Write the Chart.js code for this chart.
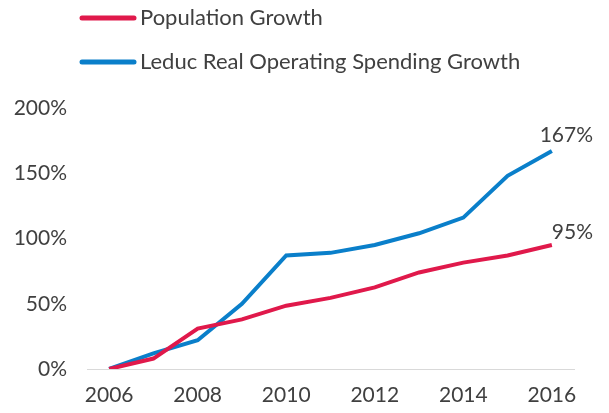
<!DOCTYPE html>
<html>
<head>
<meta charset="utf-8">
<script src="https://cdn.jsdelivr.net/npm/chart.js@4"></script>
<style>
  html, body { margin: 0; padding: 0; background: #fff; }
  #wrap { width: 609px; height: 413px; position: relative; }
</style>
</head>
<body>
<div id="wrap"><canvas id="chart"></canvas></div>
<script>
const years = ["2006","2007","2008","2009","2010","2011","2012","2013","2014","2015","2016"];
const populationGrowth = [0, 8, 31, 38, 48.5, 54.5, 62.5, 74, 81.5, 87, 95];
const spendingGrowth = [0, 12, 22, 50, 87, 89, 95, 104, 116, 148, 167];
const yTicks = [0, 50, 100, 150, 200];
const seriesNames = ["Population Growth", "Leduc Real Operating Spending Growth"];
const endLabels = ["95%", "167%"];

const FONT = "Lato, 'Open Sans', sans-serif";
const TEXT = "#404040";

// legend + end labels drawn straight on the canvas
const extras = {
    id: 'extras',
    afterDraw(chart) {
        let ctx = chart.ctx;
        ctx.save();
        ctx.fillStyle = TEXT;
        ctx.textBaseline = "middle";
        ctx.lineCap = "round";
        chart.data.datasets.forEach((ds, i) => {
            let y = 18 + i * 44;
            ctx.strokeStyle = ds.borderColor;
            ctx.lineWidth = 5;
            ctx.beginPath();
            ctx.moveTo(82, y);
            ctx.lineTo(134, y);
            ctx.stroke();
            ctx.font = "22px " + FONT;
            ctx.fillText(ds.label, 140, y);

            let meta = chart.getDatasetMeta(i);
            let last = meta.data[meta.data.length - 1];
            ctx.font = "21px " + FONT;
            ctx.textAlign = "right";
            ctx.fillText(endLabels[i], 593, last.y - (i == 0 ? 13 : 16));
            ctx.textAlign = "left";
        });
        ctx.restore();
    }
};

let ctx = document.getElementById('chart').getContext('2d');
let chart = new Chart(ctx, {
    type: 'line',
    data: {
        labels: years,
        datasets: [{
            label: seriesNames[0],
            data: populationGrowth,
            borderColor: '#E0194B',
            borderWidth: 4,
            pointRadius: 0,
            tension: 0
        }, {
            label: seriesNames[1],
            data: spendingGrowth,
            borderColor: '#0A7FCA',
            borderWidth: 4,
            pointRadius: 0,
            tension: 0
        }]
    },
    options: {
        responsive: true,
        maintainAspectRatio: false,
        animation: false,
        layout: { padding: { top: 108, right: 35, left: 0, bottom: 0 } },
        plugins: {
            legend: { display: false },
            tooltip: { enabled: false }
        },
        scales: {
            x: {
                offset: true,
                grid: { display: false, drawTicks: false },
                border: { display: true, color: '#D9D9D9', width: 1 },
                ticks: {
                    color: TEXT,
                    font: { family: FONT, size: 21 },
                    padding: 14,
                    maxRotation: 0,
                    autoSkip: false,
                    callback: function(v, i) { return i % 2 == 0 ? years[i] : ''; }
                },
                afterFit: function(s) { s.height = 44; }
            },
            y: {
                min: 0,
                max: 200,
                afterBuildTicks: function(s) { s.ticks = yTicks.map(v => ({ value: v })); },
                grid: { display: false, drawTicks: false },
                border: { display: false },
                ticks: {
                    color: TEXT,
                    font: { family: FONT, size: 21 },
                    padding: 20,
                    callback: function(v) { return v + '%'; }
                },
                afterFit: function(s) { s.width = 87; }
            }
        }
    },
    plugins: [extras]
});
</script>
</body>
</html>
